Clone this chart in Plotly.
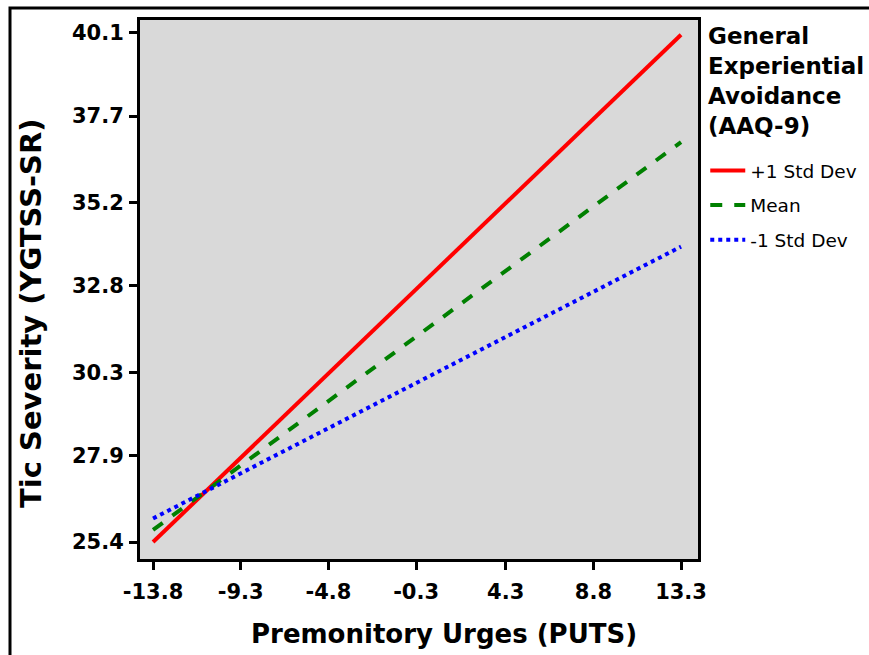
import plotly.graph_objects as go

x_vals = [-13.8, 13.3]
plus1_sd = [25.4, 40.05]
mean_vals = [25.75, 36.95]
minus1_sd = [26.08, 33.93]
series_names = ["+1 Std Dev", "Mean", "-1 Std Dev"]
x_ticks = [-13.8, -9.3, -4.8, -0.3, 4.3, 8.8, 13.3]
y_ticks = [25.4, 27.9, 30.3, 32.8, 35.2, 37.7, 40.1]
legend_title = "General<br>Experiential<br>Avoidance<br>(AAQ-9)"
x_title = "Premonitory Urges (PUTS)"
y_title = "Tic Severity (YGTSS-SR)"

FONT = "DejaVu Sans, Verdana, sans-serif"

fig = go.Figure()
styles = [("#ff0000", "solid"), ("#008000", "dash"), ("#0000ff", "dot")]
for i, (name, ys, (c, d)) in enumerate(zip(series_names, [plus1_sd, mean_vals, minus1_sd], styles)):
    fig.add_trace(go.Scatter(x=x_vals, y=ys, mode="lines", name=name, legendgroup=f"g{i}",
                             line=dict(color=c, dash=d, width=4)))

W, H = 869, 655
L, R, T, B = 140, 171, 20, 96
pw, ph = W - L - R, H - T - B

def px(xp):
    return (xp - L) / pw

def py(yp):
    return (H - B - yp) / ph

fig.update_layout(
    width=W, height=H,
    margin=dict(l=L, r=R, t=T, b=B, autoexpand=False),
    paper_bgcolor="white", plot_bgcolor="#d9d9d9",
    font=dict(family=FONT, color="black"),
    showlegend=True,
    legend=dict(
        x=1.013, xanchor="left", y=py(152), yanchor="top",
        font=dict(size=18.5), bgcolor="rgba(0,0,0,0)", tracegroupgap=7.5,
        traceorder="grouped", itemwidth=35,
    ),
    xaxis=dict(
        range=[-14.47, 14.17], tickvals=x_ticks, ticktext=[f"{v:.1f}" for v in x_ticks],
        showgrid=False, zeroline=False, showline=True, mirror=True,
        linecolor="black", linewidth=3, ticks="outside", ticklen=8, tickwidth=2.5,
        tickcolor="black", tickfont=dict(size=21, weight="bold"), ticklabelstandoff=4,
    ),
    yaxis=dict(
        range=[24.91, 40.475], tickvals=y_ticks, ticktext=[f"{v:.1f}" for v in y_ticks],
        showgrid=False, zeroline=False, showline=True, mirror=True,
        linecolor="black", linewidth=3, ticks="outside", ticklen=8, tickwidth=2.5,
        tickcolor="black", tickfont=dict(size=21, weight="bold"), ticklabelstandoff=1,
    ),
    annotations=[
        dict(text=x_title, xref="paper", yref="paper", x=px(444), y=py(634),
             xanchor="center", yanchor="middle", showarrow=False,
             font=dict(size=26, weight="bold")),
        dict(text=y_title, xref="paper", yref="paper", x=px(31), y=py(313),
             xanchor="center", yanchor="middle", showarrow=False, textangle=-90,
             font=dict(size=29, weight="bold")),
        dict(text=legend_title, xref="paper", yref="paper", x=px(706), y=py(21),
             xanchor="left", yanchor="top", align="left", showarrow=False,
             font=dict(size=23, weight="bold")),
    ],
    shapes=[dict(type="rect", xref="paper", yref="paper",
                 x0=px(10), x1=px(W + 20), y0=py(H + 20), y1=py(8),
                 line=dict(color="black", width=3), layer="below")],
)

fig.write_html("out.html")
